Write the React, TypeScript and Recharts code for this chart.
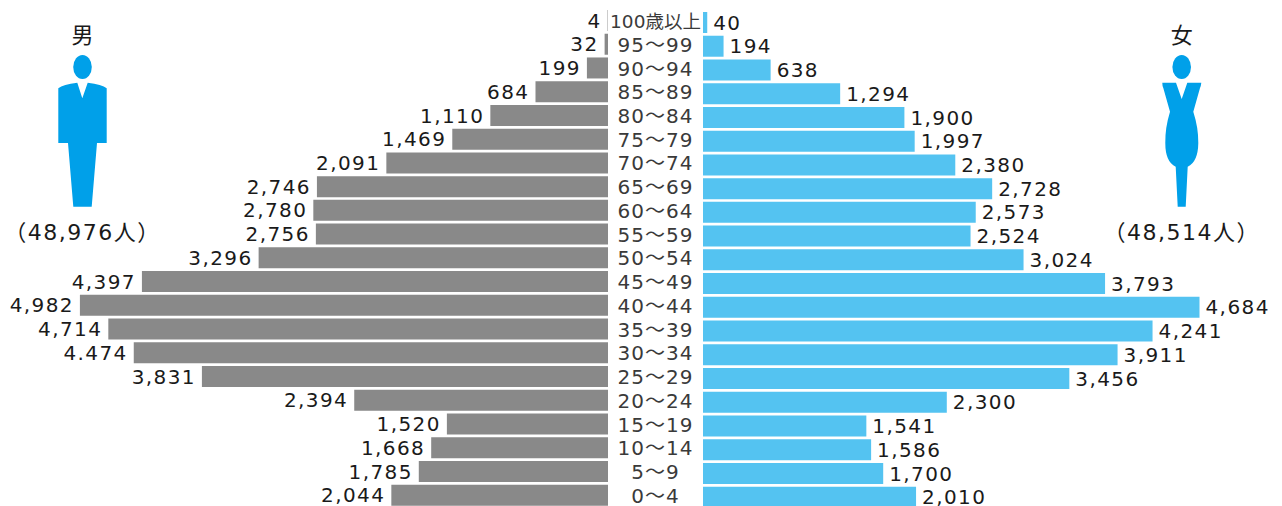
import React from "react";
import { BarChart, Bar, XAxis, YAxis, LabelList } from "recharts";

const ageGroups = ["100歳以上","95～99","90～94","85～89","80～84","75～79","70～74","65～69","60～64","55～59","50～54","45～49","40～44","35～39","30～34","25～29","20～24","15～19","10～14","5～9","0～4"];
const maleValues = [4,32,199,684,1110,1469,2091,2746,2780,2756,3296,4397,4982,4714,4474,3831,2394,1520,1668,1785,2044];
const femaleValues = [40,194,638,1294,1900,1997,2380,2728,2573,2524,3024,3793,4684,4241,3911,3456,2300,1541,1586,1700,2010];
const maleLabels = ["4","32","199","684","1,110","1,469","2,091","2,746","2,780","2,756","3,296","4,397","4,982","4,714","4.474","3,831","2,394","1,520","1,668","1,785","2,044"];
const femaleLabels = ["40","194","638","1,294","1,900","1,997","2,380","2,728","2,573","2,524","3,024","3,793","4,684","4,241","3,911","3,456","2,300","1,541","1,586","1,700","2,010"];

const rows = ageGroups.map((age, i) => ({
  age,
  male: maleValues[i],
  female: femaleValues[i],
  maleLabel: maleLabels[i],
  femaleLabel: femaleLabels[i],
}));

const FONT = '"DejaVu Sans", "Noto Sans CJK JP", sans-serif';

const AgeTick = (props: any) => {
  const { x, y, payload } = props;
  const small = payload.value.includes("歳");
  return (
    <text x={x + 39.5} y={y} dy="0.36em" textAnchor="middle" fill="#3a3a3a" fontFamily={FONT}
      fontSize={small ? 18.5 : 20} letterSpacing={small ? 0 : 1}>
      {payload.value}
    </text>
  );
};

const labelStyle = { fontFamily: FONT, fontSize: 20, fill: "#1a1a1a", letterSpacing: 1.4 };

const Caption = ({ x, y, size, spacing, children }: any) => (
  <text x={x} y={y} textAnchor="middle" dominantBaseline="central" fontFamily={FONT} fontSize={size} letterSpacing={spacing} fill="#1a1a1a">
    {children}
  </text>
);

export default function App() {
  return (
    <div style={{ position: "absolute", left: 0, top: 0, width: 1282, height: 506, overflow: "hidden", background: "#fff" }}>
      <div style={{ position: "absolute", left: 0, top: 0 }}>
        <BarChart width={703} height={520} data={rows} layout="vertical" barSize={21} barCategoryGap={0}
          margin={{ top: 9, bottom: 12.6, left: 78, right: 0 }}>
          <XAxis type="number" hide domain={[0, 5000]} reversed />
          <YAxis type="category" dataKey="age" orientation="right" width={95} interval={0} axisLine={false} tickLine={false} tick={<AgeTick />} />
          <Bar dataKey="male" fill="#898989" isAnimationActive={false}>
            <LabelList dataKey="maleLabel" position="right" offset={6} style={labelStyle} />
          </Bar>
        </BarChart>
      </div>
      <div style={{ position: "absolute", left: 703, top: 2 }}>
        <BarChart width={579} height={520} data={rows} layout="vertical" barSize={21} barCategoryGap={0}
          margin={{ top: 9, bottom: 12.6, left: 0, right: 49 }}>
          <XAxis type="number" hide domain={[0, 5000]} />
          <YAxis type="category" dataKey="age" hide />
          <Bar dataKey="female" fill="#54c3f1" isAnimationActive={false}>
            <LabelList dataKey="femaleLabel" position="right" offset={6} style={labelStyle} />
          </Bar>
        </BarChart>
      </div>
      <svg width={1282} height={506} style={{ position: "absolute", left: 0, top: 0, pointerEvents: "none" }}>
        <Caption x={82.5} y={35} size={22}>男</Caption>
        <ellipse cx={82.5} cy={67} rx={9.3} ry={12} fill="#00a0e9" />
        <path fill="#00a0e9" d="M58.3 88.3 Q63 84.5 77.3 82.7 L82.3 98.3 L87.7 82.7 Q102 84.5 106.7 88.3 L106.7 143 L97 143 L91.7 206.7 L73.3 206.7 L68 143 L58.3 143 Z" />
        <Caption x={82.5} y={232} size={22} spacing={1.5}>（48,976人）</Caption>
        <Caption x={1181.7} y={35} size={22}>女</Caption>
        <ellipse cx={1181.7} cy={67} rx={9.3} ry={12} fill="#00a0e9" />
        <path fill="#00a0e9" d="M1162.3 82.7 L1176 82.7 L1181.7 99 L1187.3 82.7 L1201.3 82.7 Q1201 86 1200 88 L1193.3 111.7 Q1198.5 128 1198.3 143 Q1198 162 1187.7 166.7 L1185.7 206.7 L1177.7 206.7 L1175.7 166.7 Q1165.3 162 1165.3 143 Q1165 128 1170 111.7 L1163.3 88 Q1162.3 86 1162.3 82.7 Z" />
        <Caption x={1181.7} y={232} size={22} spacing={1.5}>（48,514人）</Caption>
      </svg>
    </div>
  );
}
